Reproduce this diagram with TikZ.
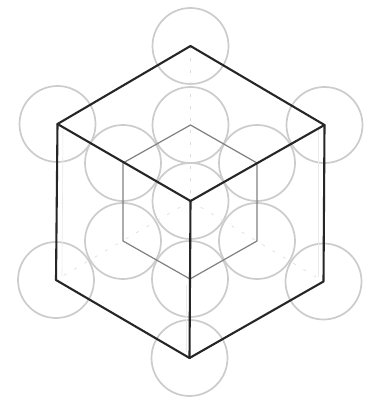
\documentclass[tikz,border=0pt]{standalone}
\tikzset{
  ball/.style={draw=black!20,line width=1.7pt},
  outeredge/.style={draw=black!85,line width=2.1pt,line join=round,line cap=round},
  inneredge/.style={draw=black!50,line width=1.2pt,line join=round},
  hiddenedge/.style={draw=black!14,line width=0.6pt,dash pattern=on 3pt off 9pt},
  faintedge/.style={draw=black!8,line width=0.6pt}
}
\begin{document}
\begin{tikzpicture}[x=1pt,y=-1pt]
\useasboundingbox (0,0) rectangle (373,403);
\fill[white] (0,0) rectangle (373,403);
% outer cube vertices
\coordinate (T) at (190.5,46);
\coordinate (L) at (57.5,124);
\coordinate (R) at (324.5,125);
\coordinate (C) at (190.5,201);
\coordinate (LB) at (56,280);
\coordinate (RB) at (323.5,281.5);
\coordinate (B) at (189.5,358);
% inner cube vertices
\coordinate (iT) at (190.5,125);
\coordinate (iUL) at (123,163);
\coordinate (iUR) at (257,163);
\coordinate (iLL) at (123,241);
\coordinate (iLR) at (257,241);
\coordinate (iB) at (190,279);
% circles
\foreach \p in {T,L,R,LB,RB,B,iT,iUL,iUR,iLL,iLR,iB,C}
  \draw[ball] (\p) circle (38);
% faint construction lines
\draw[hiddenedge] (T) -- (C);
\draw[hiddenedge] (C) -- (LB);
\draw[hiddenedge] (C) -- (RB);
\draw[faintedge] (63,128) -- (62,276);
\draw[faintedge] (318,128) -- (318,277);
\draw[faintedge] (186,285) -- (186,352);
% inner cube
\draw[inneredge] (iT) -- (iUL) -- (iLL) -- (iB) -- (iLR) -- (iUR) -- cycle;
% outer cube
\draw[outeredge] (T) -- (L) -- (LB) -- (B) -- (RB) -- (R) -- cycle;
\draw[outeredge] (L) -- (C) -- (R);
\draw[outeredge] (C) -- (B);
\end{tikzpicture}
\end{document}
